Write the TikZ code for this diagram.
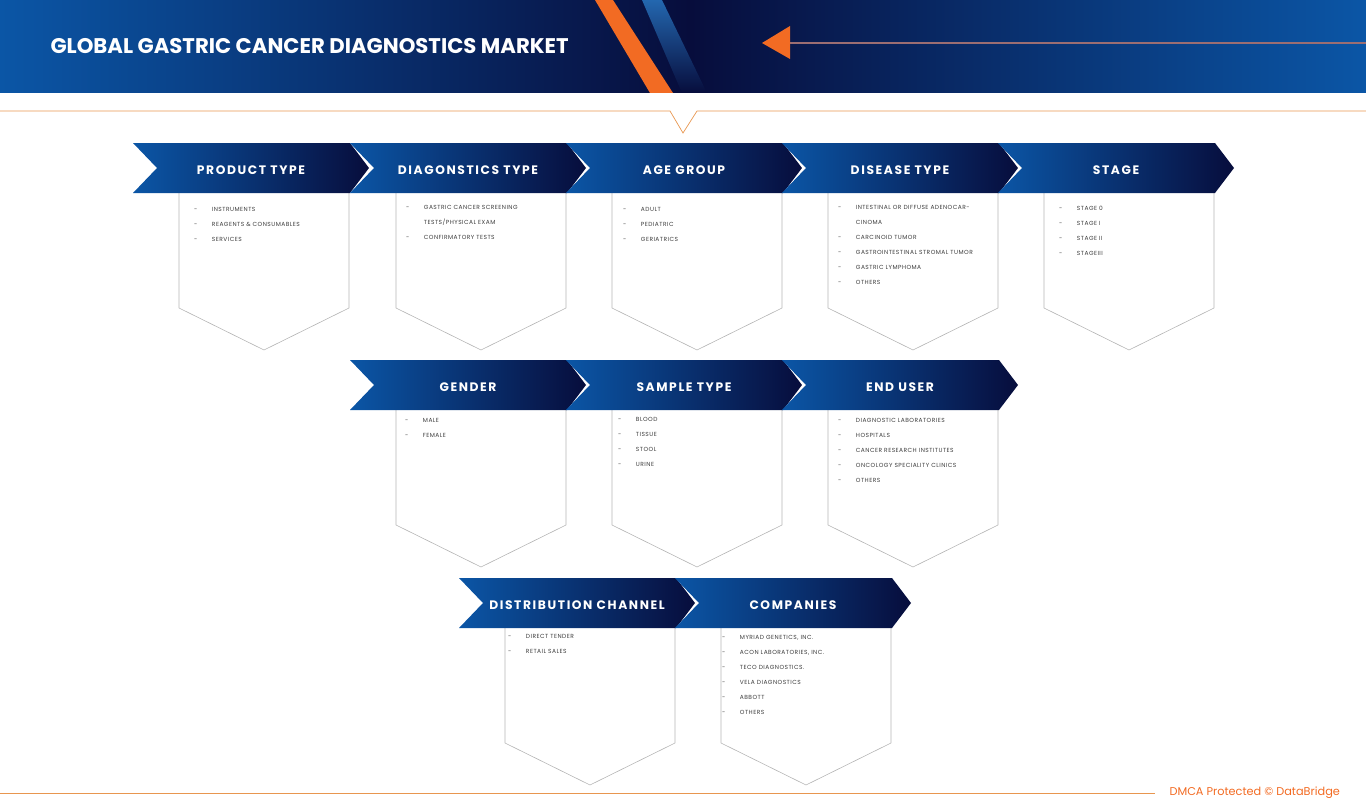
\documentclass[tikz,border=0pt]{standalone}
\usepackage{fontspec}
\setmainfont{Poppins}
\newfontfamily\headfont{Poppins}[LetterSpace=13]
\newfontfamily\itemfont{Poppins}[LetterSpace=8]
\definecolor{dbblue}{HTML}{0B56A6}
\definecolor{dbnavy}{HTML}{070D3C}
\definecolor{dborange}{HTML}{F26B23}
\definecolor{dbline}{HTML}{E8964F}
\definecolor{dbgray}{HTML}{B4B4B4}
\definecolor{dbtext}{HTML}{3C3C3C}
\definecolor{dbarrow}{HTML}{9C6E72}

\newcommand{\segment}[7]{%
\draw[boxline] (#1+46,#2+50) -- (#1+46,#2+165) -- (#1+131,#2+207) -- (#1+216,#2+165) -- (#1+216,#2+50);
\shade[left color=dbblue, right color=dbnavy] (#1,#2) -- (#1+217,#2) -- (#1+236,#2+25) -- (#1+217,#2+50) -- (#1,#2+50) -- (#1+24,#2+25) -- cycle;
\node[headtext] (#3) at (#1+118,#2+27.5) {#4};
\node[itemlist] (#3-items) at (#1+46+#5,#2+50+#6-8.5) {\begin{tabular}{@{}l@{\hspace{14.5pt}}l@{}}#7\end{tabular}};
}

\begin{document}
\begin{tikzpicture}[x=1pt, y=-1pt,
  boxline/.style={dbgray, line width=0.6pt},
  headtext/.style={text=white, font=\headfont\bfseries\fontsize{12.3}{13}\selectfont},
  itemlist/.style={anchor=north west, inner sep=0pt, text=dbtext, font=\itemfont\fontsize{5.9}{15}\selectfont}]
\useasboundingbox (0,0) rectangle (1366,808);
\shade[left color=dbblue, right color=dbnavy] (0,0) rectangle (690,93);
\shade[left color=dbnavy, right color=dbblue] (690,0) rectangle (1366,93);
\shade[top color=dbblue!90!white, bottom color=dbnavy] (642,0) -- (662,0) -- (707,93) -- (682,93) -- cycle;
\fill[dborange] (595,0) -- (613,0) -- (673,93) -- (650,93) -- cycle;
\coordinate (tip) at (762,43);
\coordinate (tail) at (1366,43);
\draw[dbarrow, line width=1.2pt] (tip) ++(28,0) -- (tail);
\fill[dborange] (tip) -- ++(28,-17) -- ++(0,33) -- cycle;
\node[anchor=west, text=white, font=\bfseries\fontsize{21.2}{23}\selectfont] (title) at (47,46) {GLOBAL GASTRIC CANCER DIAGNOSTICS MARKET};
\draw[dbline, line width=0.7pt] (0,111) -- (670,111) -- (683,133) -- (697,111) -- (1366,111);

\segment{133}{143}{prod}{PRODUCT TYPE}{15}{16}{-&INSTRUMENTS\\-&REAGENTS \& CONSUMABLES\\-&SERVICES}
\segment{350}{143}{diag}{DIAGONSTICS TYPE}{10}{14}{-&GASTRIC CANCER SCREENING\\&TESTS/PHYSICAL EXAM\\-&CONFIRMATORY TESTS}
\segment{566}{143}{age}{AGE GROUP}{11}{16}{-&ADULT\\-&PEDIATRIC\\-&GERIATRICS}
\segment{782}{143}{disease}{DISEASE TYPE}{10}{14}{-&INTESTINAL OR DIFFUSE ADENOCAR-\\&CINOMA\\-&CARCINOID TUMOR\\-&GASTROINTESTINAL STROMAL TUMOR\\-&GASTRIC LYMPHOMA\\-&OTHERS}
\segment{998}{143}{stage}{STAGE}{15}{15}{-&STAGE 0\\-&STAGE I\\-&STAGE II\\-&STAGEIII}

\segment{350}{360}{gender}{GENDER}{9}{10}{-&MALE\\-&FEMALE}
\segment{566}{360}{sample}{SAMPLE TYPE}{6}{9}{-&BLOOD\\-&TISSUE\\-&STOOL\\-&URINE}
\segment{782}{360}{enduser}{END USER}{10}{10}{-&DIAGNOSTIC LABORATORIES\\-&HOSPITALS\\-&CANCER RESEARCH INSTITUTES\\-&ONCOLOGY SPECIALITY CLINICS\\-&OTHERS}

\segment{459}{578}{dist}{DISTRIBUTION CHANNEL}{3}{8}{-&DIRECT TENDER\\-&RETAIL SALES}
\segment{675}{578}{comp}{COMPANIES}{1}{9}{-&MYRIAD GENETICS, INC.\\-&ACON LABORATORIES, INC.\\-&TECO DIAGNOSTICS.\\-&VELA DIAGNOSTICS\\-&ABBOTT\\-&OTHERS}

\draw[dbline, line width=0.7pt] (0,793) -- (1155,793);
\node[anchor=west, text=dborange, font=\fontsize{11.3}{12}\selectfont] (dmca) at (1166,793) {DMCA Protected © DataBridge};
\end{tikzpicture}
\end{document}
